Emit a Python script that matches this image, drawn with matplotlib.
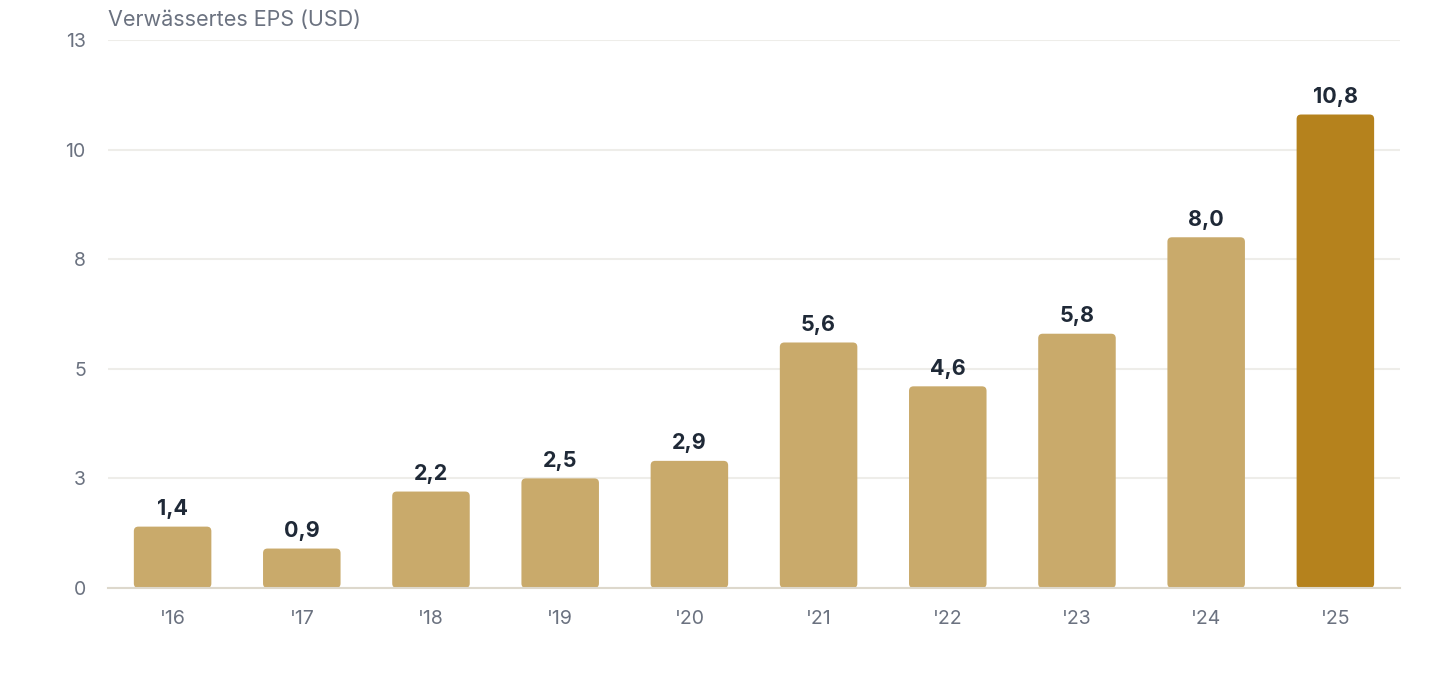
import matplotlib
matplotlib.use("Agg")
import matplotlib.pyplot as plt
from matplotlib.patches import FancyBboxPatch

plt.rcParams["font.family"] = ["Inter", "DejaVu Sans"]

years  = ["'16", "'17", "'18", "'19", "'20", "'21", "'22", "'23", "'24", "'25"]
eps    = [1.4, 0.9, 2.2, 2.5, 2.9, 5.6, 4.6, 5.8, 8.0, 10.8]
labels = ["1,4", "0,9", "2,2", "2,5", "2,9", "5,6", "4,6", "5,8", "8,0", "10,8"]
yticks = [0, 2.5, 5, 7.5, 10, 12.5]
ytick_labels = ["0", "3", "5", "8", "10", "13"]

BAR   = "#C9AA6B"
LAST  = "#B5821D"
GRID  = "#EEEDE9"
BASE  = "#DDD8CC"
MUTED = "#6B7280"
DARK  = "#1F2937"

fig = plt.figure(figsize=(14.4, 6.8), dpi=100, facecolor="white")
ax = fig.add_axes([0.075, 0.1353, 0.8972, 0.8059])
ax.set_xlim(-0.5, len(years) - 0.5)
ax.set_ylim(0, 12.5)

width = 0.6
rx = 0.035   # corner radius in x units; y units scaled by aspect
asp = 2.95
for i, (v, lab) in enumerate(zip(eps, labels)):
    color = LAST if i == len(eps) - 1 else BAR
    p = FancyBboxPatch((i - width / 2 + rx, rx * asp), width - 2 * rx, v - 2 * rx * asp,
                       boxstyle=f"round,pad={rx},rounding_size={rx}",
                       mutation_aspect=asp, facecolor=color, edgecolor="none", zorder=3)
    ax.add_patch(p)
    ax.text(i, v + 0.17, lab, ha="center", va="bottom", fontsize=15.5,
            fontweight="bold", color=DARK, zorder=4)

ax.set_yticks(yticks)
ax.set_yticklabels(ytick_labels)
ax.set_xticks(range(len(years)))
ax.set_xticklabels(years)
ax.grid(axis="y", color=GRID, linewidth=1.5, zorder=0)
ax.tick_params(axis="both", length=0, labelsize=14, colors=MUTED)
ax.tick_params(axis="y", pad=16)
ax.tick_params(axis="x", pad=16)
for s in ("top", "right", "left"):
    ax.spines[s].set_visible(False)
ax.spines["bottom"].set_color(BASE)
ax.spines["bottom"].set_linewidth(1.5)
ax.spines["bottom"].set_zorder(5)

fig.text(0.075, 1 - 20 / 680, "Verwässertes EPS (USD)", ha="left", va="center",
         fontsize=15.5, color=MUTED)

fig.savefig("out.png", dpi=100, facecolor="white")
